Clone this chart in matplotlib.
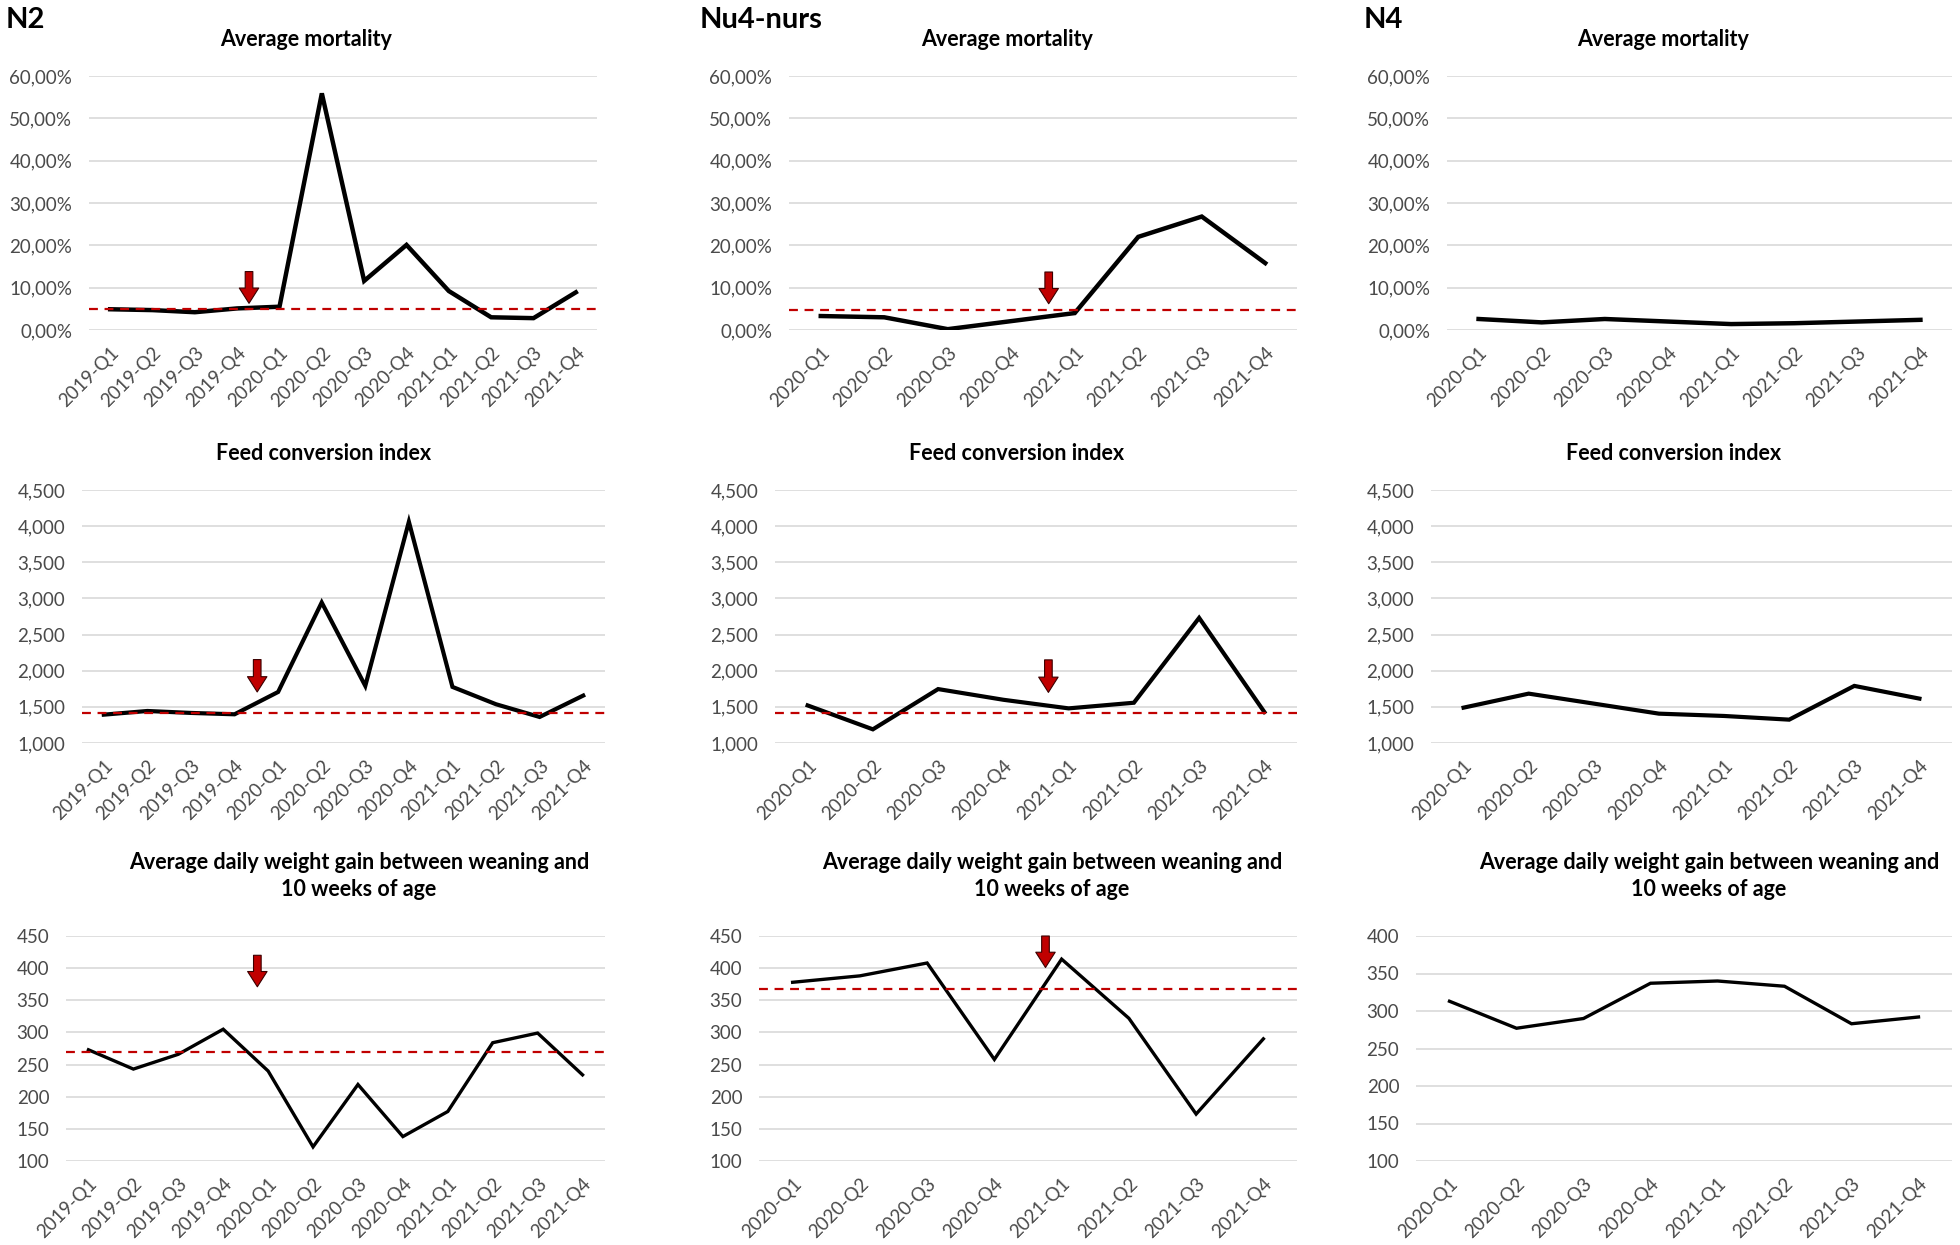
import matplotlib
matplotlib.use("Agg")
import matplotlib.pyplot as plt
from matplotlib.ticker import FuncFormatter

plt.rcParams['font.family'] = ['Lato', 'DejaVu Sans']

# --- data ---
quarters_n2 = ['2019-Q1', '2019-Q2', '2019-Q3', '2019-Q4',
               '2020-Q1', '2020-Q2', '2020-Q3', '2020-Q4',
               '2021-Q1', '2021-Q2', '2021-Q3', '2021-Q4']
quarters_20 = ['2020-Q1', '2020-Q2', '2020-Q3', '2020-Q4',
               '2021-Q1', '2021-Q2', '2021-Q3', '2021-Q4']

# average mortality (%)
n2_mortality = [4.9, 4.7, 4.2, 5.1, 5.5, 55.9, 11.6, 20.1, 9.2, 3.0, 2.8, 8.9]
nu4_mortality = [3.3, 3.0, 0.2, 2.1, 4.0, 22.0, 26.8, 15.8]
n4_mortality = [2.6, 1.8, 2.6, 2.0, 1.4, 1.6, 2.0, 2.4]

# feed conversion index
n2_fci = [1.392, 1.443, 1.416, 1.397, 1.706, 2.944, 1.790, 4.061, 1.776, 1.536, 1.360, 1.656]
nu4_fci = [1.520, 1.189, 1.746, 1.598, 1.479, 1.557, 2.731, 1.428]
n4_fci = [1.489, 1.683, 1.545, 1.406, 1.374, 1.323, 1.790, 1.614]

# average daily weight gain (g)
n2_adg = [273, 243, 266, 305, 240, 122, 219, 138, 177, 284, 299, 234]
nu4_adg = [378, 388, 408, 258, 414, 322, 173, 290]
n4_adg = [313, 277, 290, 337, 340, 333, 283, 292]

# reference level (red dashed line), None = no line
n2_ref = [4.9, 1.416, 270]
nu4_ref = [4.7, 1.414, 367]

# intervention arrow: (position on the category axis, tip value, tail value)
n2_arrows = [(3.28, 6.3, 13.8), (3.52, 1.706, 2.154), (3.76, 371, 420)]
nu4_arrows = [(3.59, 6.2, 13.7), (3.69, 1.700, 2.150), (3.76, 401, 450)]

titles = ['Average mortality', 'Feed conversion index',
          'Average daily weight gain between weaning and\n10 weeks of age']

W, H = 1960, 1245
GRAY = '#4a4a4a'
RED = '#C00000'

# axes boxes in pixels: (left, right, top, bottom)
boxes = {
    (0, 0): (89, 597, 76, 330), (1, 0): (82, 605, 490, 743), (2, 0): (66, 605, 936, 1161),
    (0, 1): (789, 1297, 76, 330), (1, 1): (775, 1297, 490, 743), (2, 1): (759, 1297, 936, 1161),
    (0, 2): (1447, 1952, 76, 330), (1, 2): (1431, 1952, 490, 743), (2, 2): (1416, 1952, 936, 1161),
}
title_x = [[306, 324, 359], [1007, 1017, 1052], [1663, 1674, 1709]]
title_y = [40, 453, 876]


def fmt_pct(v, pos):
    return f"{v:.2f}".replace('.', ',') + '%'


def fmt_fci(v, pos):
    return f"{v:.3f}".replace('.', ',')


def fmt_int(v, pos):
    return f"{v:.0f}"


def add_axes(fig, row, col):
    l, r, t, b = boxes[(row, col)]
    return fig.add_axes([l / W, 1 - b / H, (r - l) / W, (b - t) / H])


def draw_panel(ax, cats, values, ref, arrow, row, ylim, step, fmt):
    x = list(range(len(cats)))
    lw = [3.2, 3.0, 2.4][row]
    ax.plot(x, values, color='black', lw=lw, solid_joinstyle='miter', zorder=3)
    if ref is not None:
        ax.axhline(ref, color=RED, lw=1.6, ls=(0, (4, 3)), zorder=4)
    if arrow is not None:
        ax_pos, tip, tail = arrow
        ax.annotate('', xy=(ax_pos, tip), xytext=(ax_pos, tail),
                    arrowprops=dict(arrowstyle='simple,head_length=1.1,head_width=1.4,tail_width=0.55',
                                    fc=RED, ec='#3a0000', lw=0.8, shrinkA=0, shrinkB=0,
                                    mutation_scale=10), zorder=5)
    ax.set_xlim(-0.5, len(cats) - 0.5)
    ax.set_ylim(*ylim)
    ticks = []
    v = ylim[0]
    while v <= ylim[1] + 1e-9:
        ticks.append(v)
        v += step
    ax.set_yticks(ticks)
    ax.yaxis.set_major_formatter(FuncFormatter(fmt))
    ax.set_xticks(x)
    ax.set_xticklabels(cats, rotation=45, ha='right', rotation_mode='anchor')
    ax.grid(axis='y', color='#D9D9D9', lw=1.2, zorder=0)
    for s in ax.spines.values():
        s.set_visible(False)
    ax.tick_params(axis='both', length=0, labelsize=13.5, labelcolor=GRAY)
    ax.tick_params(axis='y', pad=12)
    ax.tick_params(axis='x', pad=10)


def main():
    fig = plt.figure(figsize=(W / 100, H / 100), dpi=100)

    farms = [
        (quarters_n2, [n2_mortality, n2_fci, n2_adg], n2_ref, n2_arrows),
        (quarters_20, [nu4_mortality, nu4_fci, nu4_adg], nu4_ref, nu4_arrows),
        (quarters_20, [n4_mortality, n4_fci, n4_adg], [None] * 3, [None] * 3),
    ]
    ylims = [(0, 60), (1.0, 4.5), (100, 450)]
    steps = [10, 0.5, 50]
    fmts = [fmt_pct, fmt_fci, fmt_int]

    for col, (cats, series, refs, arrows) in enumerate(farms):
        for row in range(3):
            ax = add_axes(fig, row, col)
            ylim = ylims[row]
            if col == 2 and row == 2:
                ylim = (100, 400)
            draw_panel(ax, cats, series[row], refs[row], arrows[row], row,
                       ylim, steps[row], fmts[row])
            fig.text(title_x[col][row] / W, 1 - title_y[row] / H, titles[row],
                     ha='center', va='center', fontsize=15.5, fontweight='bold',
                     linespacing=1.35)

    fig.text(6 / W, 1 - 20 / H, 'N2', fontsize=21, fontweight='bold', va='center')
    fig.text(700 / W, 1 - 20 / H, 'Nu4-nurs', fontsize=21, fontweight='bold', va='center')
    fig.text(1364 / W, 1 - 20 / H, 'N4', fontsize=21, fontweight='bold', va='center')

    fig.savefig('out.png', dpi=100)


if __name__ == "__main__":
    main()
